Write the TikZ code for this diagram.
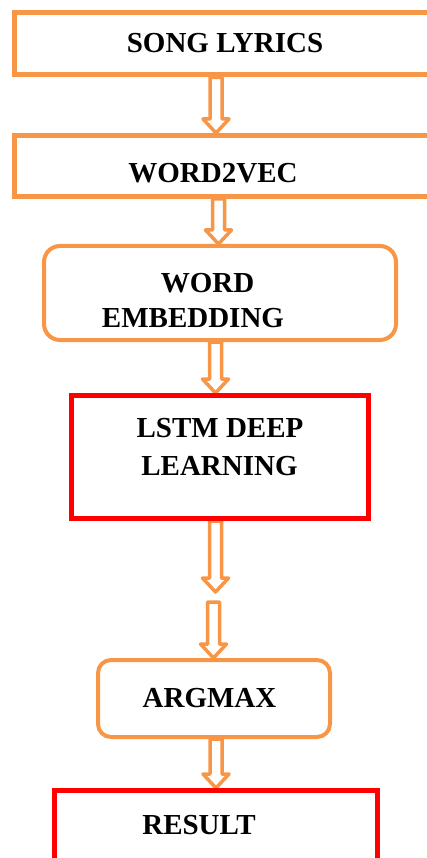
\documentclass[tikz,border=0pt]{standalone}
\usepackage{fontspec}
\setmainfont{Liberation Serif}
\usetikzlibrary{calc,backgrounds}
\definecolor{boxorange}{HTML}{F79646}
\definecolor{boxred}{HTML}{FF0000}
\tikzset{
  obox/.style={draw=boxorange, line width=5pt, minimum width=#1, inner sep=0pt},
  rbox/.style={draw=boxorange, line width=4pt, rounded corners=16pt, inner sep=0pt},
  redbox/.style={draw=boxred, line width=5pt, inner sep=0pt},
  lbl/.style={anchor=base, inner sep=0pt, font=\bfseries\fontsize{29}{32}\selectfont},
  blockarr/.style={draw=boxorange, fill=white, line width=3.5pt, line join=round}
}
\newcommand\blockarrow[2]{%
  \path[blockarr] let \p1=(#1), \p2=(#2) in
    (\x1-6pt,\y1) -- (\x1-6pt,\y2+14pt) -- (\x1-13pt,\y2+14pt) -- (\x1,\y2)
    -- (\x1+13pt,\y2+14pt) -- (\x1+6pt,\y2+14pt) -- (\x1+6pt,\y1) -- cycle;}
\begin{document}
\begin{tikzpicture}[x=1pt, y=-1pt]
\useasboundingbox (0,0) rectangle (427,858);
\clip (0,0) rectangle (427,858);
% boxes (outlines only)
\node[obox=430.5pt, minimum height=62.5pt] (b1) at (229.75,43.75) {};
\node[obox=430.5pt, minimum height=61pt] (b2) at (229.75,166) {};
\node[rbox, minimum width=352pt, minimum height=94pt] (b3) at (220,293) {};
\node[redbox, minimum width=297pt, minimum height=123pt] (b4) at (220,457) {};
\node[rbox, rounded corners=13pt, minimum width=232pt, minimum height=77pt] (b5) at (214,698.5) {};
\node[redbox, minimum width=323pt, minimum height=120pt] (b6) at (216,850.5) {};
% connection points
\coordinate (a1s) at (216,0 |- b1.south);
\coordinate (a1e) at (216,0 |- b2.north);
\coordinate (a2s) at (218.5,0 |- b2.south);
\coordinate (a2e) at (218.5,0 |- b3.north);
\coordinate (a3s) at (215.5,0 |- b3.south);
\coordinate (a3e) at (215.5,0 |- b4.north);
\coordinate (a4s) at (215.5,0 |- b4.south);
\coordinate (a4e) at (215.5,592);
\coordinate (a5s) at (213.5,602);
\coordinate (a5e) at (213.5,0 |- b5.north);
\coordinate (a6s) at (216,0 |- b5.south);
\coordinate (a6e) at (216,0 |- b6.north);
% block arrows, behind the box outlines
\begin{pgfonlayer}{background}
\blockarrow{a1s}{a1e}
\blockarrow{a2s}{a2e}
\blockarrow{a3s}{a3e}
\blockarrow{a4s}{a4e}
\blockarrow{a5s}{a5e}
\blockarrow{a6s}{a6e}
\end{pgfonlayer}
% labels
\node[lbl] (t1) at (225,53) {SONG LYRICS};
\node[lbl] (t2) at (213,183) {WORD2VEC};
\node[lbl] (t3a) at (207.5,292) {WORD};
\node[lbl] (t3b) at (193,327) {EMBEDDING};
\node[lbl] (t4a) at (220,437) {LSTM DEEP};
\node[lbl] (t4b) at (219.5,475) {LEARNING};
\node[lbl] (t5) at (209.5,707) {ARGMAX};
\node[lbl] (t6) at (199,834) {RESULT};
\end{tikzpicture}
\end{document}
